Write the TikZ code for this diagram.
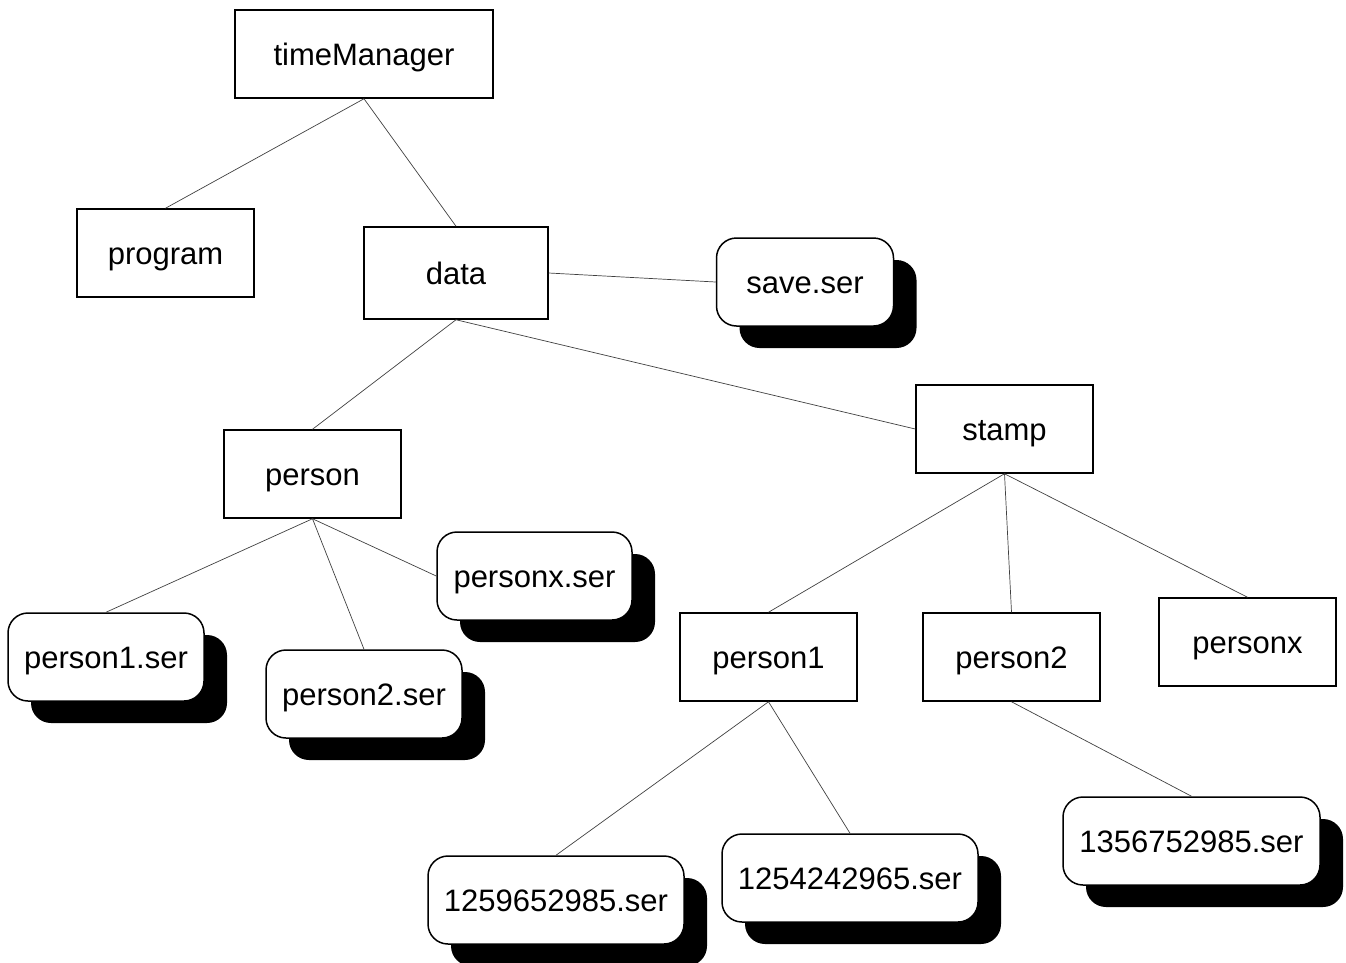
\documentclass[tikz,border=0pt]{standalone}
\usepackage{fontspec}
\setmainfont{Liberation Sans}
\usetikzlibrary{shadows}
\tikzset{
  dirbox/.style={draw=black, line width=1.5pt, fill=white, inner sep=0pt,
    minimum width=177pt, minimum height=88pt, text height=26pt, text depth=4pt,
    font=\fontsize{31}{37}\selectfont},
  serfile/.style={dirbox, rounded corners=20pt,
    drop shadow={shadow xshift=23pt, shadow yshift=-22pt, fill=black, opacity=1}},
  link/.style={draw=black!75, line width=0.7pt}
}
\begin{document}
\begin{tikzpicture}[x=1pt,y=-1pt]
\useasboundingbox (0,0) rectangle (1346,962);
% directories
\node[dirbox, minimum width=258pt] (tm) at (364,54) {timeManager};
\node[dirbox] (program) at (165.5,253) {program};
\node[dirbox, minimum width=184pt, minimum height=92pt] (data) at (456,273) {data};
\node[dirbox] (person) at (312.5,474) {person};
\node[dirbox] (stamp) at (1004.5,429) {stamp};
\node[dirbox] (p1) at (768.5,657) {person1};
\node[dirbox] (p2) at (1011.5,657) {person2};
\node[dirbox] (px) at (1247.5,642) {personx};

% files
\node[serfile] (save) at (805,282) {save.ser};
\node[serfile, minimum width=195pt] (pxser) at (534.5,576) {personx.ser};
\node[serfile, minimum width=196pt] (p1ser) at (106,657) {person1.ser};
\node[serfile, minimum width=196pt] (p2ser) at (364,694) {person2.ser};
\node[serfile, minimum width=256pt] (s1) at (556,900) {1259652985.ser};
\node[serfile, minimum width=256pt] (s2) at (850,878) {1254242965.ser};
\node[serfile, minimum width=257pt] (s3) at (1191.5,841) {1356752985.ser};

% links
\draw[link] (tm.south) -- (program.north);
\draw[link] (tm.south) -- (data.north);
\draw[link] (data.east) -- (save.west);
\draw[link] (data.south) -- (person.north);
\draw[link] (data.south) -- (stamp.west);
\draw[link] (person.south) -- (p1ser.north);
\draw[link] (person.south) -- (p2ser.north);
\draw[link] (person.south) -- (pxser.west);
\draw[link] (stamp.south) -- (p1.north);
\draw[link] (stamp.south) -- (p2.north);
\draw[link] (stamp.south) -- (px.north);
\draw[link] (p1.south) -- (s1.north);
\draw[link] (p1.south) -- (s2.north);
\draw[link] (p2.south) -- (s3.north);
\end{tikzpicture}
\end{document}
